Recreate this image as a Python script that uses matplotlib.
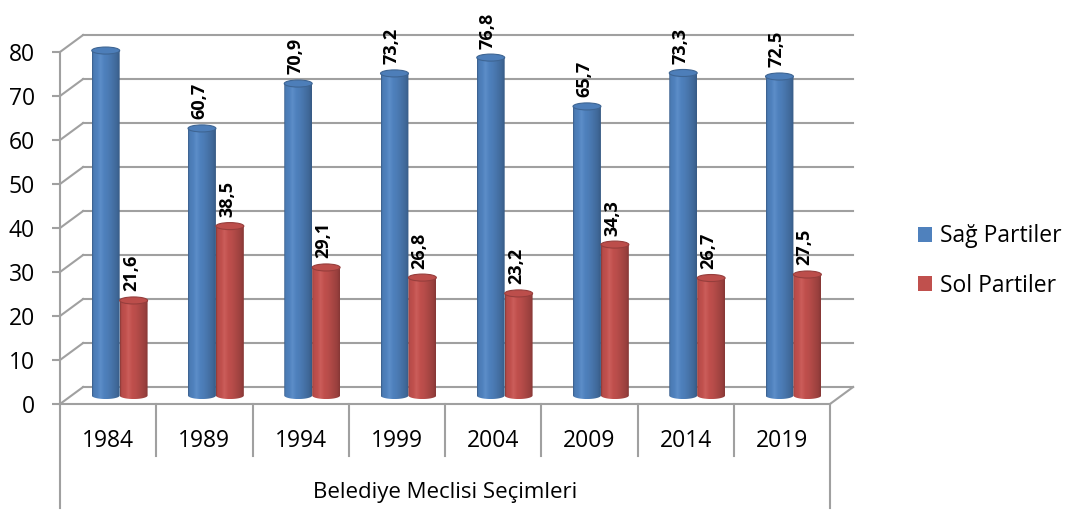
import numpy as np
import matplotlib
matplotlib.use("Agg")
import matplotlib.pyplot as plt
from matplotlib.patches import PathPatch, Ellipse, Patch
from matplotlib.path import Path

# 数据
years = ["1984", "1989", "1994", "1999", "2004", "2009", "2014", "2019"]
sag = [78.4, 60.7, 70.9, 73.2, 76.8, 65.7, 73.3, 72.5]
sol = [21.6, 38.5, 29.1, 26.8, 23.2, 34.3, 26.7, 27.5]
series_names = ["Sağ Partiler", "Sol Partiler"]
xlabel = "Belediye Meclisi Seçimleri"

plt.rcParams["font.family"] = ["Open Sans", "DejaVu Sans"]

W, H = 1069, 511
fig = plt.figure(figsize=(W / 100, H / 100), dpi=100)
ax = fig.add_axes([60 / W, (H - 404) / H, 770 / W, 352 / H])
ax.set_xlim(0, 8)
ax.set_ylim(0, 80)

grid_c = "#a0a0a0"
dx, dy = 0.24, 3.86          # depth offset of the back wall
bw = 0.29                    # cylinder width
eh = 1.6                     # ellipse height (value units)

# 3D frame: back wall gridlines, left diagonals, floor
for v in range(0, 81, 10):
    ax.plot([dx, 8 + dx], [v + dy, v + dy], color=grid_c, lw=1.5, clip_on=False, zorder=1)
    ax.plot([0, dx], [v, v + dy], color=grid_c, lw=1.5, clip_on=False, zorder=1)
ax.plot([8, 8 + dx], [0, dy], color=grid_c, lw=1.5, clip_on=False, zorder=1)

# lines below the floor (category table)
for i in range(9):
    low = -23.6 if i in (0, 8) else -11.8
    ax.plot([i, i], [0, low], color=grid_c, lw=1.5, clip_on=False, zorder=1)


def shade(base, t):
    f = np.interp(t, [0, 0.05, 0.3, 0.6, 0.9, 1], [0.72, 0.95, 1.04, 0.95, 0.8, 0.7])
    rgb = np.array(matplotlib.colors.to_rgb(base))
    out = np.outer(f, rgb)
    over = np.clip(f - 1, 0, None)[:, None]
    out = out + over * 1.5 * (1 - rgb)
    return np.clip(out, 0, 1)


def cylinder(xc, val, color, z):
    x0, x1 = xc - bw / 2, xc + bw / 2
    base, top = dy / 2, val + dy / 2
    t = np.linspace(0, np.pi, 40)
    arc = np.column_stack([xc - bw / 2 * np.cos(t), base - eh / 2 * np.sin(t)])
    verts = np.vstack([[x0, top], [x0, base], arc, [x1, top], [x0, top]])
    path = Path(verts, closed=True)
    clip = PathPatch(path, transform=ax.transData, facecolor="none", edgecolor="none")
    grad = shade(color, np.linspace(0, 1, 64))[None, :, :]
    im = ax.imshow(grad, extent=[x0, x1, base - eh / 2, top], aspect="auto",
                   interpolation="bilinear", zorder=z)
    im.set_clip_path(clip)
    im.set_clip_box(None)
    topc = shade(color, np.array([0.5]))[0]
    edge = shade(color, np.array([0.92]))[0]
    ax.add_patch(Ellipse((xc, top), bw, eh, facecolor=topc, edgecolor=edge,
                         lw=0.8, zorder=z + 0.1, clip_on=False))
    return top + eh / 2


colors = ["#4f81bd", "#c0504d"]
for i in range(len(years)):
    for k, (vals, col) in enumerate([(sag, colors[0]), (sol, colors[1])]):
        xc = i + 0.5 + dx / 2 + (k - 0.5) * bw
        ytop = cylinder(xc, vals[i], col, 3 + k)
        ax.annotate(f"{vals[i]:.1f}".replace(".", ","), (xc, ytop),
                    xytext=(-2, 4), textcoords="offset points",
                    rotation=90, ha="center", va="bottom",
                    fontsize=13, fontweight="bold", color="black", zorder=10)

# axes styling
for s in ["top", "right"]:
    ax.spines[s].set_visible(False)
ax.spines["left"].set_color(grid_c)
ax.spines["bottom"].set_color(grid_c)
ax.spines["left"].set_linewidth(1.5)
ax.spines["bottom"].set_linewidth(1.5)
ax.set_yticks(range(0, 81, 10))
ax.tick_params(axis="y", length=6, width=1.5, color=grid_c, labelsize=16.5, pad=12)
ax.set_xticks([])
ax.patch.set_alpha(0)

for i, yr in enumerate(years):
    ax.text(i + 0.5, -8.4, yr, ha="center", va="center", fontsize=16.5)
ax.text(4, -20.2, xlabel, ha="center", va="center", fontsize=16)

handles = [Patch(facecolor=c, edgecolor="none") for c in colors]
fig.legend(handles, series_names, loc="center left",
           bbox_to_anchor=(918 / W, (H - 261) / H), frameon=False,
           borderaxespad=0, borderpad=0,
           fontsize=16.5, handlelength=0.6, handleheight=0.6,
           handletextpad=0.35, labelspacing=1.1)

fig.savefig("out.png", dpi=100)
